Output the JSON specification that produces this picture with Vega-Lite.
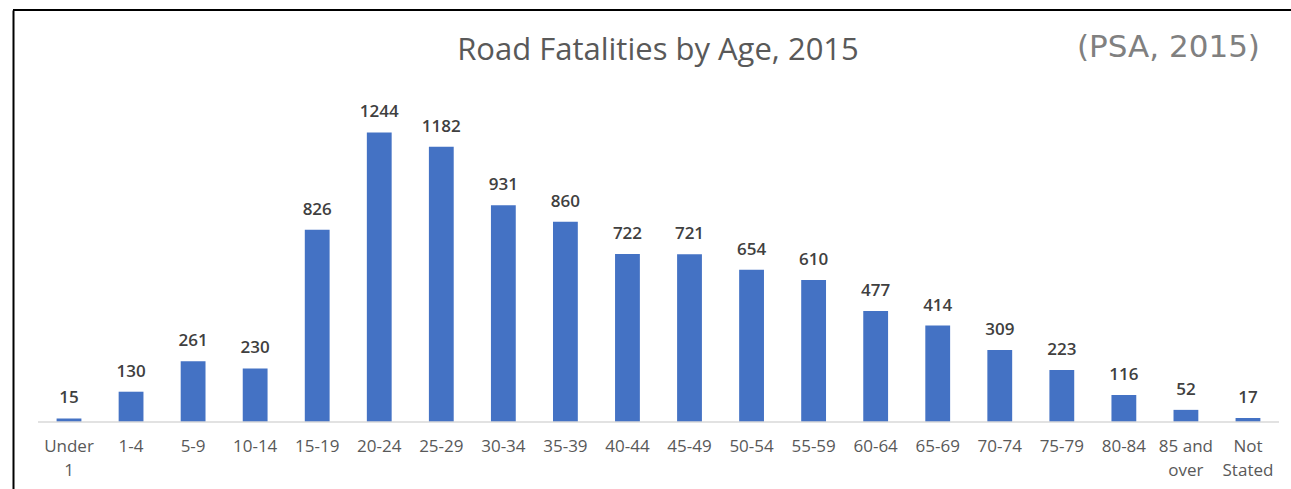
{
  "$schema": "https://vega.github.io/schema/vega-lite/v6.json",
  "width": 1278,
  "height": 479,
  "autosize": {"type": "none"},
  "padding": {"left": 13, "top": 10, "right": 0, "bottom": 0},
  "background": "white",
  "config": {"view": {"stroke": null}, "font": "Open Sans"},
  "title": {
    "text": "Road Fatalities by Age, 2015",
    "anchor": "middle",
    "frame": "group",
    "font": "Open Sans",
    "fontSize": 31,
    "fontWeight": "normal",
    "color": "#595959",
    "baseline": "alphabetic",
    "dx": 6,
    "dy": 86
  },
  "data": {
    "values": [
      {"age": "Under 1", "n": 15},
      {"age": "1-4", "n": 130},
      {"age": "5-9", "n": 261},
      {"age": "10-14", "n": 230},
      {"age": "15-19", "n": 826},
      {"age": "20-24", "n": 1244},
      {"age": "25-29", "n": 1182},
      {"age": "30-34", "n": 931},
      {"age": "35-39", "n": 860},
      {"age": "40-44", "n": 722},
      {"age": "45-49", "n": 721},
      {"age": "50-54", "n": 654},
      {"age": "55-59", "n": 610},
      {"age": "60-64", "n": 477},
      {"age": "65-69", "n": 414},
      {"age": "70-74", "n": 309},
      {"age": "75-79", "n": 223},
      {"age": "80-84", "n": 116},
      {"age": "85 and over", "n": 52},
      {"age": "Not Stated", "n": 17}
    ]
  },
  "layer": [
    {
      "mark": {"type": "bar", "color": "#4472C4"},
      "encoding": {
        "x": {
          "field": "age",
          "type": "nominal",
          "sort": null,
          "scale": {
            "domain": ["Under 1", "1-4", "5-9", "10-14", "15-19", "20-24", "25-29", "30-34", "35-39", "40-44", "45-49", "50-54", "55-59", "60-64", "65-69", "70-74", "75-79", "80-84", "85 and over", "Not Stated"],
            "paddingInner": 0.6,
            "paddingOuter": 0.598,
            "align": 0.5874
          },
          "axis": {
            "title": null,
            "orient": "bottom",
            "offset": -67,
            "domain": false,
            "ticks": false,
            "tickSize": 0,
            "grid": false,
            "labelAngle": 0,
            "labelFont": "Open Sans",
            "labelFontSize": 17,
            "labelColor": "#595959",
            "labelPadding": 16,
            "labelLineHeight": 24.5,
            "labelOverlap": false,
            "labelBound": false,
            "labelFlush": false,
            "labelExpr": "datum.label == 'Under 1' ? ['Under', '1'] : datum.label == '85 and over' ? ['85 and', 'over'] : datum.label == 'Not Stated' ? ['Not', 'Stated'] : datum.label"
          }
        },
        "y": {
          "field": "n",
          "type": "quantitative",
          "scale": {"domain": [-288, 1770], "nice": false, "zero": false},
          "axis": {
            "title": null,
            "domain": true,
            "domainColor": "#000000",
            "domainWidth": 2,
            "labels": false,
            "ticks": false,
            "grid": false
          }
        },
        "y2": {"datum": 0}
      }
    },
    {
      "mark": {"type": "text", "font": "Open Sans", "fontSize": 17, "fontWeight": 600, "color": "#404040", "baseline": "alphabetic", "dy": -15},
      "encoding": {
        "x": {"field": "age", "type": "nominal", "sort": null},
        "y": {"field": "n", "type": "quantitative"},
        "text": {"field": "n", "type": "quantitative"}
      }
    },
    {
      "data": {"values": [{"a": "Under 1", "b": "Not Stated"}]},
      "mark": {"type": "rule", "color": "#d9d9d9", "strokeWidth": 1.5},
      "encoding": {
        "x": {"field": "a", "type": "nominal", "bandPosition": -0.749},
        "x2": {"field": "b", "bandPosition": 1.75},
        "y": {"datum": 0}
      }
    },
    {
      "data": {"values": [{}]},
      "mark": {"type": "rule", "color": "#000000", "strokeWidth": 2},
      "encoding": {"y": {"datum": 1770}}
    },
    {
      "data": {"values": [{}]},
      "mark": {"type": "text", "font": "DejaVu Sans", "fontWeight": "normal", "fontSize": 31, "color": "#808080", "align": "right", "baseline": "alphabetic", "dx": 12},
      "encoding": {
        "x": {"datum": "Not Stated"},
        "y": {"datum": 1568},
        "text": {"value": "(PSA, 2015)"}
      }
    }
  ]
}
